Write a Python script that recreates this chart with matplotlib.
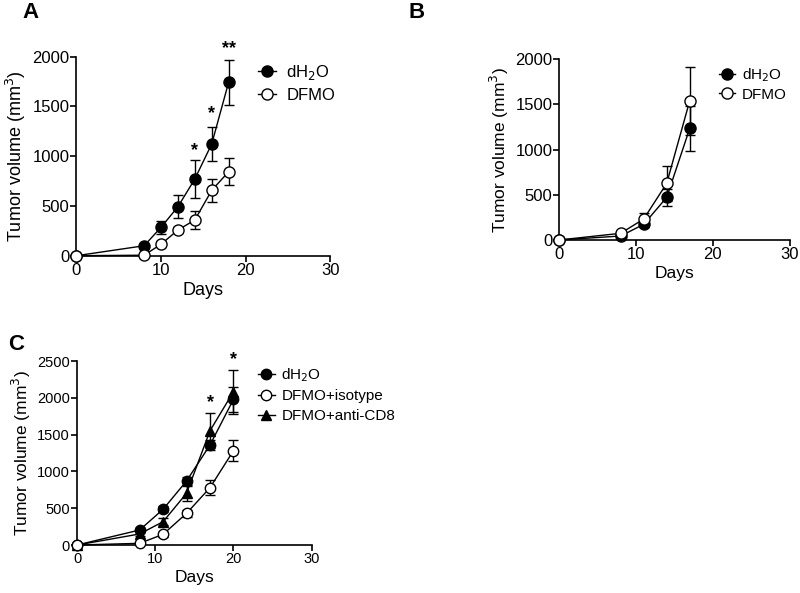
import matplotlib
matplotlib.use("Agg")
import matplotlib.pyplot as plt
import numpy as np

plt.rcParams['font.family'] = ['Liberation Sans', 'DejaVu Sans']

# Panel A
a_days_h2o = [0, 8, 10, 12, 14, 16, 18]
a_h2o = [0, 100, 285, 492, 771, 1123, 1743]
a_h2o_err = [0, 20, 65, 118, 190, 175, 225]
a_days_dfmo = [0, 8, 10, 12, 14, 16, 18]
a_dfmo = [0, 5, 115, 258, 359, 657, 844]
a_dfmo_err = [0, 5, 30, 30, 95, 117, 135]
a_star_days = [14, 16, 18]
a_star_y = [970, 1340, 2000]
a_star_txt = ['*', '*', '**']

# Panel B
b_days = [0, 8, 11, 14, 17]
b_h2o = [0, 44, 173, 472, 1236]
b_h2o_err = [0, 15, 30, 92, 250]
b_dfmo = [0, 74, 232, 627, 1542]
b_dfmo_err = [0, 20, 63, 196, 377]

# Panel C
c_days = [0, 8, 11, 14, 17, 20]
c_h2o = [0, 204, 485, 870, 1359, 1979]
c_h2o_err = [0, 30, 40, 60, 70, 170]
c_iso = [0, 23, 145, 430, 779, 1282]
c_iso_err = [0, 10, 30, 50, 100, 140]
c_cd8 = [0, 150, 317, 702, 1553, 2083]
c_cd8_err = [0, 30, 50, 100, 236, 300]
c_star_days = [17, 20]
c_star_y = [1825, 2405]

fig = plt.figure(figsize=(8, 5.93), dpi=100)

def style(ax, ymax, ystep, tfs, lfs, xpad, ypad):
    ax.spines['top'].set_visible(False)
    ax.spines['right'].set_visible(False)
    for s in ['left', 'bottom']:
        ax.spines[s].set_linewidth(1.2)
    ax.set_xlim(0, 30)
    ax.set_ylim(0, ymax)
    ax.set_xticks([0, 10, 20, 30])
    ax.set_yticks(np.arange(0, ymax + 1, ystep))
    ax.tick_params(width=1.2, length=4, labelsize=tfs, pad=1)
    ax.set_xlabel('Days', fontsize=lfs, labelpad=xpad)
    ax.set_ylabel('Tumor volume (mm$^3$)', fontsize=lfs, labelpad=ypad)

def series(ax, x, y, e, marker, fill, ms, label):
    ax.errorbar(x, y, yerr=e, fmt='-', marker=marker, color='black',
                mfc='black' if fill else 'white', mec='black', ms=ms, lw=1.0,
                elinewidth=1.0, capsize=3.5, capthick=1.0, clip_on=False,
                label=label, zorder=3 if fill else 4)

def legend(ax, anchor, fs, spacing, pad):
    h, l = ax.get_legend_handles_labels()
    ax.legend([x[0] for x in h], l, loc='upper left', bbox_to_anchor=anchor,
              frameon=False, fontsize=fs, handlelength=1.1, handletextpad=pad,
              labelspacing=spacing, borderaxespad=0, borderpad=0)

# A
axA = fig.add_axes([0.0956, 0.5688, 0.317, 0.3356])
series(axA, a_days_h2o, a_h2o, a_h2o_err, 'o', True, 8, 'dH$_2$O')
series(axA, a_days_dfmo, a_dfmo, a_dfmo_err, 'o', False, 8, 'DFMO')
style(axA, 2000, 500, 12, 13, 3, 3)
for d, yv, t in zip(a_star_days, a_star_y, a_star_txt):
    axA.text(d, yv, t, ha='center', va='bottom', fontsize=13, fontweight='bold')
legend(axA, (0.716, 0.968), 12, 0.35, 0.6)

# B
axB = fig.add_axes([0.699, 0.5953, 0.288, 0.3047])
series(axB, b_days, b_h2o, b_h2o_err, 'o', True, 8, 'dH$_2$O')
series(axB, b_days, b_dfmo, b_dfmo_err, 'o', False, 8, 'DFMO')
style(axB, 2000, 500, 12, 12.5, 3, 3)
legend(axB, (0.692, 0.963), 11, 0.25, 0.4)

# C
axC = fig.add_axes([0.09625, 0.0809, 0.2934, 0.3103])
series(axC, c_days, c_h2o, c_h2o_err, 'o', True, 7.5, 'dH$_2$O')
series(axC, c_days, c_iso, c_iso_err, 'o', False, 7.5, 'DFMO+isotype')
series(axC, c_days, c_cd8, c_cd8_err, '^', True, 7.5, 'DFMO+anti-CD8')
style(axC, 2500, 500, 10.5, 12.5, 3, 3)
for d, yv in zip(c_star_days, c_star_y):
    axC.text(d, yv, '*', ha='center', va='bottom', fontsize=13, fontweight='bold')
legend(axC, (0.771, 0.973), 11, 0.37, 0.44)

fig.text(22 / 800, 1 - 2 / 593, 'A', fontsize=16, fontweight='bold', va='top', ha='left')
fig.text(408 / 800, 1 - 2 / 593, 'B', fontsize=16, fontweight='bold', va='top', ha='left')
fig.text(8 / 800, 1 - 334 / 593, 'C', fontsize=16, fontweight='bold', va='top', ha='left')

fig.savefig('out.png', dpi=100)
